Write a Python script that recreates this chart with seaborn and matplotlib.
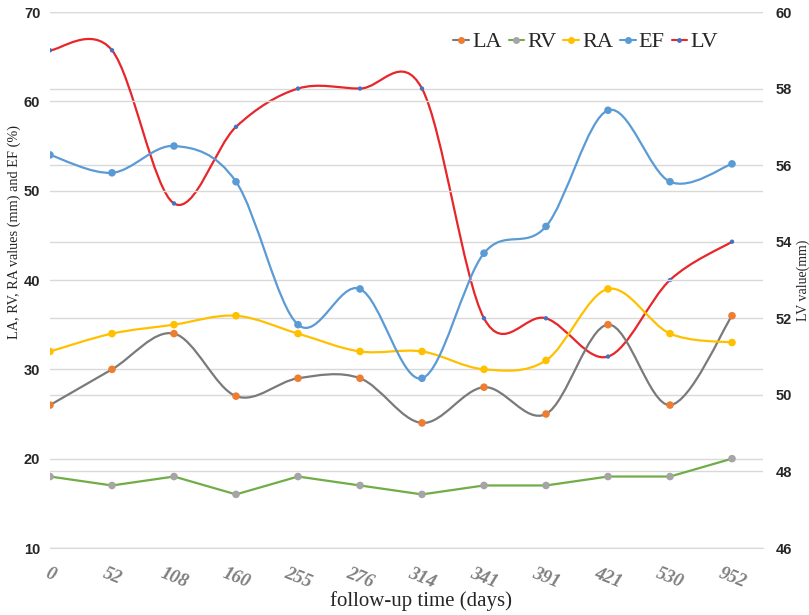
import numpy as np
import matplotlib
matplotlib.use("Agg")
import matplotlib.pyplot as plt
import seaborn as sns
from matplotlib.path import Path
from matplotlib.patches import PathPatch
from matplotlib.lines import Line2D

# dados
days = ['0', '52', '108', '160', '255', '276', '314', '341', '391', '421', '530', '952']
la = [26, 30, 34, 27, 29, 29, 24, 28, 25, 35, 26, 36]
rv = [18, 17, 18, 16, 18, 17, 16, 17, 17, 18, 18, 20]
ra = [32, 34, 35, 36, 34, 32, 32, 30, 31, 39, 34, 33]
ef = [54, 52, 55, 51, 35, 39, 29, 43, 46, 59, 51, 53]
lv = [59, 59, 55, 57, 58, 58, 58, 52, 52, 51, 53, 54]

sns.set_style("white")
plt.rcParams['font.family'] = ['Liberation Serif', 'DejaVu Serif']

GRID = '#d9d9d9'
ORANGE = '#ed7d31'
GRAY_LINE = '#7a7a7a'
GRAY_MK = '#a5a5a5'
GREEN = '#70ad47'
YELLOW = '#ffc000'
BLUE = '#5b9bd5'
RED = '#e8262a'
DBLUE = '#4472c4'


def smooth_path(x, y):
    # curva suave estilo Excel (Bezier tipo Catmull-Rom)
    pts = np.column_stack([x, y]).astype(float)
    n = len(pts)
    verts = [pts[0]]
    codes = [Path.MOVETO]
    for i in range(n - 1):
        p0 = pts[i - 1] if i > 0 else pts[i]
        p1, p2 = pts[i], pts[i + 1]
        p3 = pts[i + 2] if i + 2 < n else pts[i + 1]
        verts += [p1 + (p2 - p0) / 6, p2 - (p3 - p1) / 6, p2]
        codes += [Path.CURVE4] * 3
    return Path(verts, codes)


x = np.arange(len(days))

fig = plt.figure(figsize=(8.09, 6.15), dpi=100)
ax = fig.add_axes([50 / 809, 1 - 548 / 615, 713 / 809, 536 / 615])
ax2 = ax.twinx()
ax.set_zorder(ax2.get_zorder() + 1)
ax.patch.set_visible(False)

# eixo direito: LV
ax2.add_patch(PathPatch(smooth_path(x, lv), fill=False, edgecolor=RED, lw=1.6))
sns.scatterplot(x=x, y=lv, ax=ax2, color=DBLUE, s=10, edgecolor='none', zorder=3)
ax2.set_ylim(46, 60)
ax2.set_yticks(range(46, 61, 2))
ax2.grid(axis='y', color=GRID, lw=1)

# eixo esquerdo
ax.add_patch(PathPatch(smooth_path(x, la), fill=False, edgecolor=GRAY_LINE, lw=1.6))
sns.scatterplot(x=x, y=la, ax=ax, color=ORANGE, s=30, edgecolor='none', zorder=3)
sns.lineplot(x=x, y=rv, ax=ax, color=GREEN, lw=1.6)
sns.scatterplot(x=x, y=rv, ax=ax, color=GRAY_MK, s=30, edgecolor='none', zorder=3)
ax.add_patch(PathPatch(smooth_path(x, ra), fill=False, edgecolor=YELLOW, lw=1.6))
sns.scatterplot(x=x, y=ra, ax=ax, color=YELLOW, s=30, edgecolor='none', zorder=3)
ax.add_patch(PathPatch(smooth_path(x, ef), fill=False, edgecolor=BLUE, lw=1.6))
sns.scatterplot(x=x, y=ef, ax=ax, color=BLUE, s=30, edgecolor='none', zorder=3)

ax.set_ylim(10, 70)
ax.set_yticks(range(10, 71, 10))
ax.set_xlim(0, len(days) - 0.5)
ax.set_xticks(x)
ax.set_xticklabels(days, rotation=-22, ha='center', style='italic',
                   fontweight='bold', color='#7f7f7f', fontsize=13.5)
ax.grid(axis='y', color=GRID, lw=1)
ax.grid(axis='x', visible=False)
ax2.grid(axis='x', visible=False)

for a in (ax, ax2):
    for s in ['top', 'left', 'right']:
        a.spines[s].set_visible(False)
    a.spines['bottom'].set_color(GRID)
ax2.spines['bottom'].set_visible(False)

ax.tick_params(axis='x', length=5, color=GRID, direction='out', pad=7)
ax.tick_params(axis='y', length=0, pad=7)
ax2.tick_params(axis='y', length=0, pad=9)
for lbl in ax.get_yticklabels() + ax2.get_yticklabels():
    lbl.set_family(['Liberation Sans', 'DejaVu Sans'])
    lbl.set_fontweight('bold')
    lbl.set_fontsize(10.5)
    lbl.set_color('#262626')

ax.set_xlabel('follow-up time (days)', fontsize=15)
ax.xaxis.set_label_coords(0.52, -0.08)
ax.set_ylabel('LA, RV, RA values (mm) and EF (%)', fontsize=10.3)
ax.yaxis.set_label_coords(-0.04, 0.59)
ax2.set_ylabel('LV value(mm)', fontsize=10)
ax2.yaxis.set_label_coords(1.047, 0.5)

handles = [
    Line2D([0], [0], color=GRAY_LINE, marker='o', mfc=ORANGE, mec=ORANGE, ms=4, lw=1.5),
    Line2D([0], [0], color=GREEN, marker='o', mfc=GRAY_MK, mec=GRAY_MK, ms=4, lw=1.5),
    Line2D([0], [0], color=YELLOW, marker='o', mfc=YELLOW, mec=YELLOW, ms=4, lw=1.5),
    Line2D([0], [0], color=BLUE, marker='o', mfc=BLUE, mec=BLUE, ms=4, lw=1.5),
    Line2D([0], [0], color=RED, marker='o', mfc=DBLUE, mec=DBLUE, ms=2.5, lw=1.5),
]
ax.legend(handles, ['LA', 'RV', 'RA', 'EF', 'LV'], ncol=5, frameon=False,
          loc='center right', bbox_to_anchor=(0.965, 0.944), fontsize=16,
          handlelength=0.7, handletextpad=0.15, columnspacing=0.3)

fig.savefig('out.png', dpi=100)
